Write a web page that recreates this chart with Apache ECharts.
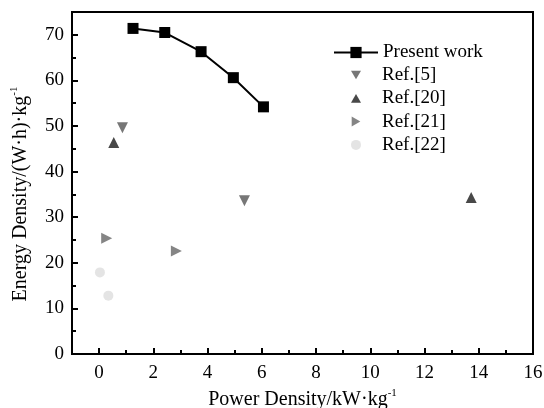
<!DOCTYPE html>
<html><head><meta charset="utf-8">
<script src="https://cdn.jsdelivr.net/npm/echarts@6/dist/echarts.min.js"></script>
<style>html,body{margin:0;padding:0;background:#fff}#c{width:544px;height:408px}</style>
</head><body><div id="c"></div>
<script>
var presentX = [1.25, 2.42, 3.76, 4.95, 6.06];
var presentY = [71.4, 70.5, 66.3, 60.6, 54.2];
var ref5X = [0.86, 5.36];
var ref5Y = [49.6, 33.6];
var ref20X = [0.54, 13.72];
var ref20Y = [46.4, 34.3];
var ref21X = [0.28, 2.85];
var ref21Y = [25.4, 22.6];
var ref22X = [0.03, 0.34];
var ref22Y = [17.9, 12.8];
var seriesNames = ['Present work', 'Ref.[5]', 'Ref.[20]', 'Ref.[21]', 'Ref.[22]'];
var xMajorTicks = [0, 2, 4, 6, 8, 10, 12, 14, 16];
var xMinorTicks = [1, 3, 5, 7, 9, 11, 13, 15];

function pairs(xs, ys) { return xs.map(function (x, i) { return [x, ys[i]]; }); }

var font = 'Liberation Serif, Times New Roman, serif';
var ICON_DOWN = 'path://M0,0 L12,0 L6,10.4 Z';
var ICON_UP = 'path://M6,0 L12,10.4 L0,10.4 Z';
var ICON_RIGHT = 'path://M0,0 L10.4,6 L0,12 Z';
var titleRich = {
  a: { fontFamily: font, fontSize: 20, color: '#000', lineHeight: 22, verticalAlign: 'bottom' },
  s: { fontFamily: font, fontSize: 11, color: '#000', verticalAlign: 'top', lineHeight: 22 }
};
var chart = echarts.init(document.getElementById('c'));
chart.setOption({
  animation: false,
  textStyle: { fontFamily: font },
  grid: { left: 72, right: 11, top: 12, bottom: 54, containLabel: false, outerBoundsMode: 'none',
    show: true, borderColor: '#000', borderWidth: 2, backgroundColor: 'transparent' },
  legend: [{
    orient: 'vertical', left: 333, top: 43, padding: 0,
    itemWidth: 44, itemHeight: 14, itemGap: 4,
    textStyle: { fontFamily: font, fontSize: 19, color: '#000', lineHeight: 19 },
    data: [seriesNames[0]]
  }, {
    orient: 'vertical', left: 351, top: 65.5, padding: 0,
    itemWidth: 10, itemHeight: 10, itemGap: 4.3,
    symbolRotate: 0,
    textStyle: { fontFamily: font, fontSize: 19, color: '#000', lineHeight: 19, padding: [0, 0, 0, 16] },
    data: [
      { name: seriesNames[1], icon: ICON_DOWN },
      { name: seriesNames[2], icon: ICON_UP },
      { name: seriesNames[3], icon: ICON_RIGHT },
      { name: seriesNames[4], icon: 'circle' }
    ]
  }],
  xAxis: [{
    type: 'value', min: -1, max: 16,
    name: '{a|Power Density/kW·kg}{s|-1}', nameLocation: 'middle', nameGap: 34,
    nameTextStyle: { rich: titleRich },
    axisLine: { onZero: false, lineStyle: { color: '#000', width: 2 } },
    axisTick: { inside: true, length: 6, lineStyle: { color: '#000', width: 2 }, customValues: xMajorTicks },
    axisLabel: { fontFamily: font, fontSize: 19, color: '#000', margin: 10, customValues: xMajorTicks },
    splitLine: { show: false }
  }, {
    type: 'value', min: -1, max: 16, position: 'bottom', gridIndex: 0,
    axisLine: { show: false },
    axisTick: { inside: true, length: 4, lineStyle: { color: '#000', width: 2 }, customValues: xMinorTicks },
    axisLabel: { show: false },
    splitLine: { show: false }
  }],
  yAxis: {
    type: 'value', min: 0, max: 75, interval: 10,
    name: '{a|Energy Density/(W·h)·kg}{s|-1}', nameLocation: 'middle', nameGap: 41,
    nameTextStyle: { rich: titleRich, padding: [0, 22, 0, 0] },
    axisLine: { onZero: false, lineStyle: { color: '#000', width: 2 } },
    axisTick: { inside: true, length: 6, lineStyle: { color: '#000', width: 2 } },
    minorTick: { show: true, splitNumber: 2, length: 4, lineStyle: { color: '#000', width: 2 } },
    axisLabel: { fontFamily: font, fontSize: 19, color: '#000', margin: 8, showMaxLabel: false },
    splitLine: { show: false }
  },
  series: [
    { name: seriesNames[0], type: 'line', data: pairs(presentX, presentY), symbol: 'rect', symbolSize: 11,
      itemStyle: { color: '#000' }, lineStyle: { color: '#000', width: 2 } },
    { name: seriesNames[1], type: 'scatter', data: pairs(ref5X, ref5Y), symbol: 'triangle', symbolRotate: 180, symbolSize: 11,
      itemStyle: { color: '#555' } },
    { name: seriesNames[2], type: 'scatter', data: pairs(ref20X, ref20Y), symbol: 'triangle', symbolSize: 11,
      itemStyle: { color: '#1a1a1a' } },
    { name: seriesNames[3], type: 'scatter', data: pairs(ref21X, ref21Y), symbol: 'triangle', symbolRotate: -90, symbolSize: 11,
      itemStyle: { color: '#666' } },
    { name: seriesNames[4], type: 'scatter', data: pairs(ref22X, ref22Y), symbol: 'circle', symbolSize: 10,
      itemStyle: { color: '#ddd' } }
  ]
});
</script></body></html>
